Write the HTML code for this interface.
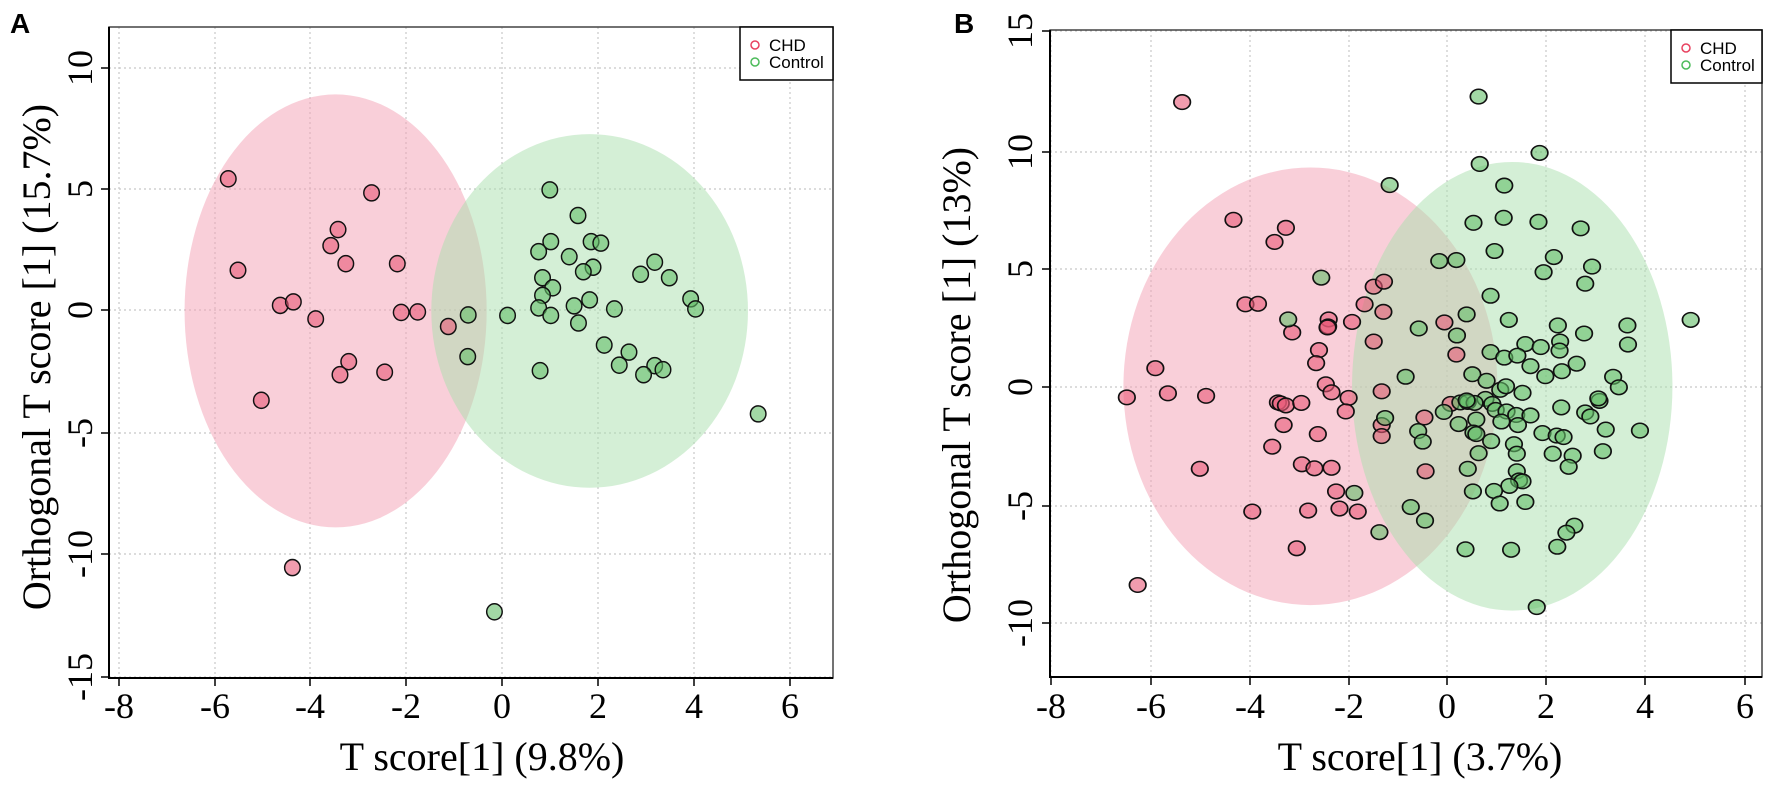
<!DOCTYPE html>
<html><head><meta charset="utf-8"><style>
html,body{margin:0;padding:0;background:#fff;}
svg{display:block;}
.tk{font-family:"Liberation Serif",serif;font-size:36px;fill:#000;}
.tt{font-family:"Liberation Serif",serif;font-size:40px;fill:#000;}
.lg{font-family:"Liberation Sans",sans-serif;font-size:17px;fill:#000;}
.pl{font-family:"Liberation Sans",sans-serif;font-size:28px;font-weight:bold;fill:#000;}
.grid line{stroke:#c8c8c8;stroke-width:1.2;stroke-dasharray:2,3;}
.pk circle{fill:rgb(232,90,120);fill-opacity:.6;stroke:#111;stroke-width:3;}
.gr circle{fill:rgb(100,190,105);fill-opacity:.6;stroke:#111;stroke-width:3;}
</style></head><body>
<svg id="s" width="1772" height="787" viewBox="0 0 1772 787" xmlns="http://www.w3.org/2000/svg">
<g id="A"></g><g id="B"></g>
</svg>
<script>
var NS="http://www.w3.org/2000/svg";
function el(p,t,a,txt){var e=document.createElementNS(NS,t);for(var k in a)e.setAttribute(k,a[k]);if(txt!==undefined)e.textContent=txt;p.appendChild(e);return e;}
function panel(root,o){
 var L=o.L,R=o.R,T=o.T,Bm=o.B;
 var g=el(root,'g',{'class':'grid'});
 o.xt.forEach(function(t){el(g,'line',{x1:t[1],x2:t[1],y1:T,y2:Bm});});
 o.yt.forEach(function(t){el(g,'line',{x1:L,x2:R,y1:t[1],y2:t[1]});});
 // ellipses & points in zoom coords
 var z=el(root,'g',{transform:o.tf});
 el(z,'ellipse',{cx:o.pe[0],cy:o.pe[1],rx:o.pe[2],ry:o.pe[3],fill:'#f4a0b4','fill-opacity':.5});
 el(z,'ellipse',{cx:o.ge[0],cy:o.ge[1],rx:o.ge[2],ry:o.ge[3],fill:'#aadfae','fill-opacity':.5});
 var pk=el(z,'g',{'class':'pk'});o.pp.forEach(function(p){el(pk,'circle',{cx:p[0],cy:p[1],r:o.r});});
 var gr=el(z,'g',{'class':'gr'});o.gp.forEach(function(p){el(gr,'circle',{cx:p[0],cy:p[1],r:o.r});});
 // frame
 el(root,'rect',{x:L,y:T,width:R-L,height:Bm-T,fill:'none',stroke:'#444','stroke-width':1.5});
 el(root,'line',{x1:L,x2:L,y1:T,y2:Bm+1,stroke:'#000','stroke-width':2});
 el(root,'line',{x1:L,x2:R,y1:Bm,y2:Bm,stroke:'#000','stroke-width':2});
 o.xt.forEach(function(t){el(root,'line',{x1:t[1],x2:t[1],y1:Bm,y2:Bm+8,stroke:'#000','stroke-width':1.5});
   el(root,'text',{x:t[1],y:718,'class':'tk','text-anchor':'middle'},t[0]);});
 o.yt.forEach(function(t){el(root,'line',{x1:L-8,x2:L,y1:t[1],y2:t[1],stroke:'#000','stroke-width':1.5});
   el(root,'text',{x:0,y:0,'class':'tk','text-anchor':'middle',transform:'translate('+o.ylx+','+t[1]+') rotate(-90)'},t[0]);});
 el(root,'text',{x:o.xtx,y:770,'class':'tt','text-anchor':'middle'},o.xtitle);
 el(root,'text',{x:0,y:0,'class':'tt','text-anchor':'middle',transform:'translate('+o.ytx+','+o.yty+') rotate(-90)'},o.ytitle);
 var lg=o.lg;
 el(root,'rect',{x:lg[0],y:T,width:R-lg[0],height:lg[1]-T,fill:'#fff',stroke:'#000','stroke-width':1.5});
 el(root,'circle',{cx:lg[2],cy:lg[3],r:4,fill:'none',stroke:'#e8415f','stroke-width':1.5});
 el(root,'circle',{cx:lg[2],cy:lg[3]+17,r:4,fill:'none',stroke:'#4cbb5a','stroke-width':1.5});
 el(root,'text',{x:lg[4],y:lg[3]+6,'class':'lg'},'CHD');
 el(root,'text',{x:lg[4],y:lg[3]+23,'class':'lg'},'Control');
 el(root,'text',{x:o.pl[0],y:o.pl[1],'class':'pl'},o.pl[2]);
}
panel(document.getElementById('A'),{
 L:109,R:833,T:27,B:678,
 xt:[['-8',119],['-6',215],['-4',310],['-2',406],['0',502],['2',598],['4',694],['6',790]],
 yt:[['10',68],['5',189],['0',310],['-5',433],['-10',554],['-15',677]],
 tf:'scale(0.4857,0.5023)',r:16,
 pe:[691,619,311,431],ge:[1214,619,326,352],
 pp:[[470,356],[490,538],[765,384],[696,457],[681,489],[712,525],[818,525],[577,608],[604,601],[650,635],[826,622],[860,621],[923,650],[538,797],[718,720],[700,746],[792,741],[602,1130]],
 gp:[[1132,378],[1190,429],[1109,501],[1134,481],[1172,511],[1217,481],[1237,484],[1221,532],[1201,541],[1117,553],[1138,573],[1117,588],[1109,613],[1134,628],[1182,609],[1214,597],[1265,615],[1191,643],[964,627],[963,710],[1045,628],[1244,687],[1295,701],[1275,727],[1348,522],[1319,546],[1378,553],[1422,595],[1432,615],[1348,728],[1365,736],[1325,746],[1112,738],[1018,1218],[1561,824]],
 ylx:92,xtx:482,xtitle:'T score[1] (9.8%)',ytx:50,yty:357,ytitle:'Orthogonal T score [1] (15.7%)',
 lg:[740,80,755,45,769],pl:[10,33,'A']
});
panel(document.getElementById('B'),{
 L:1050,R:1762,T:30,B:677,
 xt:[['-8',1051],['-6',1151],['-4',1250],['-2',1349],['0',1447],['2',1546],['4',1645],['6',1745]],
 yt:[['15',31],['10',152],['5',269],['0',387],['-5',506],['-10',623]],
 tf:'translate(880,0) scale(0.5701,0.5030)',r:14.5,
 pe:[755,768,328,435],ge:[1109,768,281,446],
 pp:[[530,203],[620,437],[712,453],[692,481],[641,605],[663,604],[483,732],[433,790],[505,782],[572,787],[561,932],[653,1017],[751,1015],[731,1090],[452,1163],[787,635],[786,649],[785,651],[828,640],[723,661],[770,696],[765,722],[782,764],[792,780],[822,791],[817,818],[698,800],[703,802],[712,806],[739,801],[708,845],[768,863],[688,888],[740,923],[762,931],[792,930],[800,977],[806,1011],[838,1017],[866,570],[884,560],[850,605],[883,620],[866,679],[1011,705],[880,778],[880,845],[880,867],[955,830],[957,937],[990,641],[1001,803]],
 gp:[[1050,192],[1157,304],[1052,326],[894,368],[1095,369],[1041,443],[1094,433],[1155,441],[1229,454],[1078,499],[1182,511],[1249,530],[1164,541],[981,519],[1011,517],[774,552],[1237,564],[1071,588],[716,635],[945,653],[1029,625],[1103,636],[1012,667],[1189,647],[1311,647],[1235,663],[1132,684],[1159,690],[1193,679],[1312,685],[1071,700],[1095,711],[1118,707],[1141,728],[1192,697],[1222,723],[1196,738],[1167,748],[1286,749],[1296,770],[922,749],[1039,744],[1064,757],[1088,775],[1098,768],[1127,781],[1062,793],[1074,803],[1080,815],[1099,818],[1116,825],[1141,826],[1195,810],[1237,820],[1246,828],[1262,797],[1260,792],[989,819],[1018,800],[1031,799],[1043,801],[1015,843],[1046,834],[1090,838],[1119,845],[1162,861],[1187,866],[1199,869],[1273,854],[1333,856],[1041,860],[1046,863],[944,857],[952,878],[1072,877],[1112,883],[1117,902],[1050,901],[1180,902],[1215,906],[1268,897],[1031,932],[1208,928],[1117,937],[1121,955],[1127,957],[1104,966],[1077,976],[1040,977],[1087,1001],[1132,998],[832,980],[931,1008],[956,1035],[876,1058],[1218,1045],[1204,1059],[1188,1087],[1027,1092],[1107,1093],[1152,1207],[886,831],[1422,636],[1029,796]],
 ylx:1032,xtx:1420,xtitle:'T score[1] (3.7%)',ytx:970,yty:385,ytitle:'Orthogonal T score [1] (13%)',
 lg:[1671,83,1686,48,1700],pl:[954,33,'B']
});
</script>
</body></html>
